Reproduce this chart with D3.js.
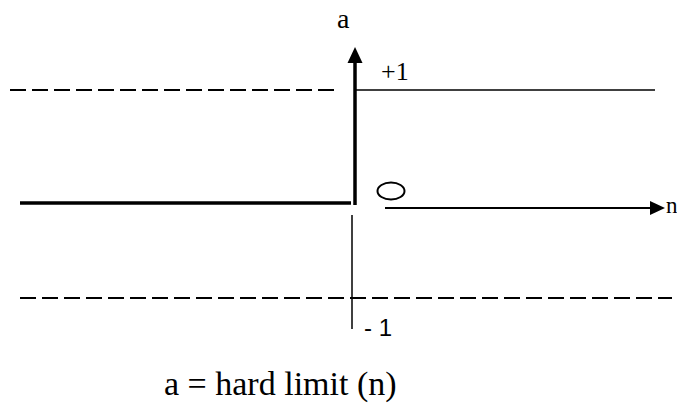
<!DOCTYPE html>
<html>
<head>
<meta charset="utf-8">
<script src="https://cdn.jsdelivr.net/npm/d3@7"></script>
<style>
  body { margin: 0; background: #fff; }
  svg { display: block; }
  .serif { font-family: "Liberation Serif", "Times New Roman", "DejaVu Serif", serif; }
  .sans { font-family: "Liberation Sans", Arial, sans-serif; }
</style>
</head>
<body>
<svg id="chart"></svg>
<script>
// hard limit transfer function, a = hardlim(n)
var nTicks = [-1, 0, 1]
var aLevels = [-1, 0, 1]
var leftSeg = [{n: -1, a: 0}, {n: 0, a: 0}]
var rightSeg = [{n: 0, a: 1}, {n: 1, a: 1}]
var levelLabels = ["+1", "- 1"]
var caption = "a = hard limit (n)"

var width = 677, height = 406
var svg = d3.select("#chart").attr("width", width).attr("height", height)

var x = d3.scaleLinear()
    .domain(nTicks)
    .range([20, 355, 655])
var y = d3.scaleLinear()
    .domain(aLevels)
    .range([298, 203, 90])

var line = d3.line().x(d => x(d.n)).y(d => y(d.a))

// dashed +1 and -1 levels
svg.append("line")
    .attr("x1", 10).attr("x2", x(0) - 15)
    .attr("y1", y(1)).attr("y2", y(1))
    .attr("stroke", "#000").attr("stroke-width", 2)
    .attr("stroke-dasharray", "16,6")
svg.append("line")
    .attr("x1", x(-1)).attr("x2", 672)
    .attr("y1", y(-1)).attr("y2", y(-1))
    .attr("stroke", "#000").attr("stroke-width", 2)
    .attr("stroke-dasharray", "16,6")

// a axis (thick, arrow up)
svg.append("line")
    .attr("x1", x(0)).attr("x2", x(0))
    .attr("y1", y(0) + 2).attr("y2", 60)
    .attr("stroke", "#000").attr("stroke-width", 3.5)
svg.append("path")
    .attr("d", `M${x(0)},47 L${x(0) + 7.5},63 L${x(0) - 7.5},63 Z`)
    .attr("fill", "#000")

// lower thin part of the a axis
svg.append("line")
    .attr("x1", x(0) - 3).attr("x2", x(0) - 3)
    .attr("y1", 215).attr("y2", 329)
    .attr("stroke", "#000").attr("stroke-width", 1.5)

// n < 0 : a = 0
svg.append("path")
    .datum(leftSeg)
    .attr("d", d3.line().x(d => x(d.n) - (d.n === 0 ? 4 : 0)).y(d => y(d.a)))
    .attr("fill", "none").attr("stroke", "#000").attr("stroke-width", 3.5)

// n >= 0 : a = +1
svg.append("path")
    .datum(rightSeg)
    .attr("d", line)
    .attr("fill", "none").attr("stroke", "#000").attr("stroke-width", 1.5)

// n axis
var ny = y(0) + 5
svg.append("line")
    .attr("x1", x(0) + 30).attr("x2", 652)
    .attr("y1", ny).attr("y2", ny)
    .attr("stroke", "#000").attr("stroke-width", 2)
svg.append("path")
    .attr("d", `M665,${ny} L650,${ny - 7} L650,${ny + 7} Z`)
    .attr("fill", "#000")

// origin marker
svg.append("ellipse")
    .attr("cx", x(0) + 36).attr("cy", y(0) - 12)
    .attr("rx", 13.5).attr("ry", 8.5)
    .attr("fill", "none").attr("stroke", "#000").attr("stroke-width", 2)

// labels
svg.append("text").attr("class", "serif")
    .attr("x", x(0) - 18).attr("y", 28)
    .attr("font-size", 28)
    .text("a")
svg.append("text").attr("class", "serif")
    .attr("x", 666).attr("y", ny + 5)
    .attr("font-size", 23)
    .text("n")
svg.append("text").attr("class", "serif")
    .attr("x", x(0) + 26).attr("y", y(1) - 10)
    .attr("font-size", 26)
    .text(levelLabels[0])
svg.append("text").attr("class", "sans")
    .attr("x", x(0) + 9).attr("y", y(-1) + 38)
    .attr("font-size", 24)
    .text(levelLabels[1])
svg.append("text").attr("class", "serif")
    .attr("x", 164).attr("y", 395)
    .attr("font-size", 34)
    .text(caption)
</script>
</body>
</html>
